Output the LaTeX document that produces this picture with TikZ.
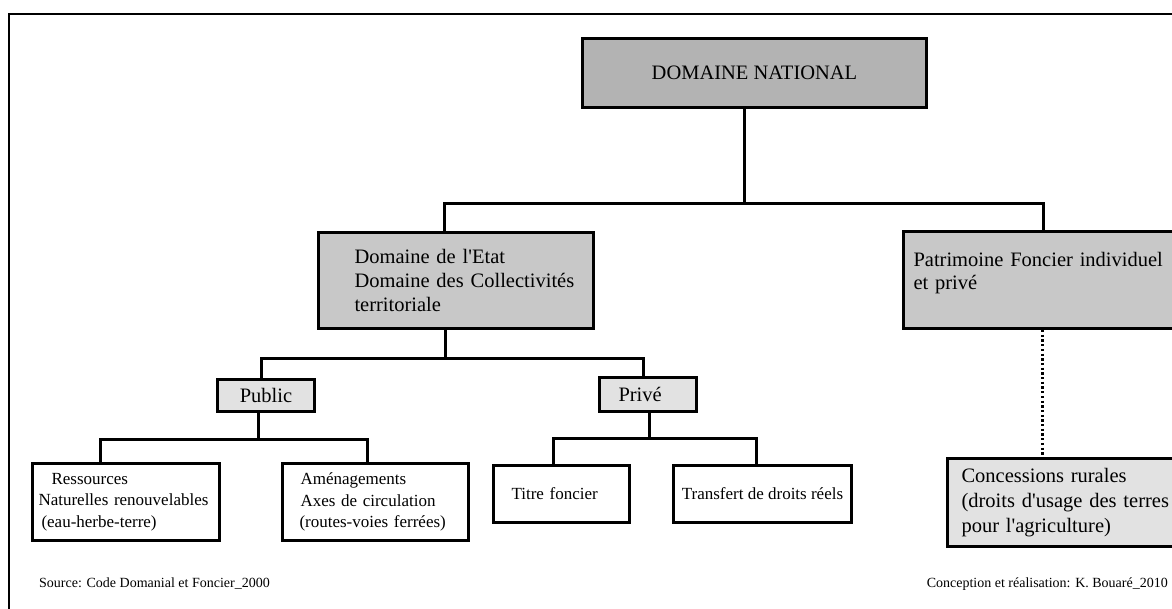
\documentclass[tikz,border=0pt]{standalone}
\usepackage{fontspec}
\setmainfont{Liberation Serif}
\definecolor{gA}{RGB}{179,179,179}
\definecolor{gB}{RGB}{200,200,200}
\definecolor{gC}{RGB}{226,226,226}
\newcommand\aq{\textquotesingle}
\newcommand\ind[1]{\hspace*{#1pt}}
\begin{document}
\begin{tikzpicture}[x=1pt,y=-1pt,
  bx/.style={draw=black, line width=3pt, inner sep=0pt, anchor=north west},
  lbx/.style={bx, align=left, text width=#1},
  conn/.style={line width=3pt, line cap=rect},
  dotline/.style={line width=3pt, dash pattern=on 2.3pt off 2.4pt},
  big/.style={font=\fontsize{20.5}{24}\selectfont},
  mid/.style={font=\fontsize{17}{21.5}\selectfont},
  foot/.style={font=\fontsize{14}{16}\selectfont}]
\useasboundingbox (0,0) rectangle (1172,608);
\clip (0,0) rectangle (1172,608);
% frame
\draw[line width=2pt] (1200,14) -- (9,14) -- (9,640);
% boxes
\node[bx, big, fill=gA, minimum width=344pt, minimum height=69pt, align=center] (nat) at (581,37) {DOMAINE NATIONAL};
\node[lbx=275pt, big, fill=gB, minimum height=96pt] (etat) at (317,231)
  {\ind{36}Domaine de l\aq Etat\\\ind{36}Domaine des Collectivités\\\ind{36}territoriale};
\node[lbx=300pt, font=\fontsize{20.5}{23}\selectfont, fill=gB, minimum height=97pt, text depth=42pt] (pat) at (902,230)
  {\ind{10}Patrimoine Foncier individuel\\\ind{10}et privé};
\node[bx, big, fill=gC, minimum width=97pt, minimum height=32pt, align=center] (pub) at (216,378) {Public};
\node[lbx=97pt, big, fill=gC, minimum height=34pt] (prv) at (598,376) {\ind{19}Privé};
\node[lbx=187pt, mid, fill=white, minimum height=77pt] (res) at (31,462)
  {\ind{19}Ressources\\\ind{6}Naturelles renouvelables\\\ind{9}(eau-herbe-terre)};
\node[lbx=186pt, mid, fill=white, minimum height=77pt] (amn) at (281,462)
  {\ind{18}Aménagements\\\ind{18}Axes de circulation\\\ind{17}(routes-voies ferrées)};
\node[lbx=136pt, mid, fill=white, minimum height=57pt] (tit) at (492,464) {\ind{18}Titre foncier};
\node[bx, mid, fill=white, minimum width=178pt, minimum height=57pt, align=center] (trf) at (672,464) {Transfert de droits réels};
\node[lbx=260pt, font=\fontsize{20.5}{25}\selectfont, fill=gC, minimum height=88pt] (con) at (946,457)
  {\ind{14}Concessions rurales\\\ind{14}(droits d\aq usage des terres\\\ind{14}pour l\aq agriculture)};
% footers
\node[foot, anchor=west, inner sep=0pt] (src) at (39,584) {Source: Code Domanial et Foncier\_2000};
\node[foot, anchor=east, inner sep=0pt] (cred) at (1168,584) {Conception et réalisation: K. Bouaré\_2010};
% connector coordinates
\coordinate (j0) at (744,203);
\coordinate (jL) at (444,203);
\coordinate (jR) at (1043,203);
\coordinate (k0) at (445,358);
\coordinate (kL) at (261,358);
\coordinate (kR) at (643,358);
\coordinate (p0) at (258,439);
\coordinate (pL) at (100,439);
\coordinate (pR) at (367,439);
\coordinate (q0) at (649,438);
\coordinate (qL) at (553,438);
\coordinate (qR) at (756,438);
\coordinate (d0) at (1042,400);
% connectors
\draw[conn] (j0 |- nat.south) -- (j0);
\draw[conn] (jL |- etat.north) -- (jL) -- (jR) -- (jR |- pat.north);
\draw[conn] (k0 |- etat.south) -- (k0);
\draw[conn] (kL |- pub.north) -- (kL) -- (kR) -- (kR |- prv.north);
\draw[conn] (p0 |- pub.south) -- (p0);
\draw[conn] (pL |- res.north) -- (pL) -- (pR) -- (pR |- amn.north);
\draw[conn] (q0 |- prv.south) -- (q0);
\draw[conn] (qL |- tit.north) -- (qL) -- (qR) -- (qR |- trf.north);
\draw[dotline] (d0 |- pat.south) -- (d0 |- con.north);
\end{tikzpicture}
\end{document}
